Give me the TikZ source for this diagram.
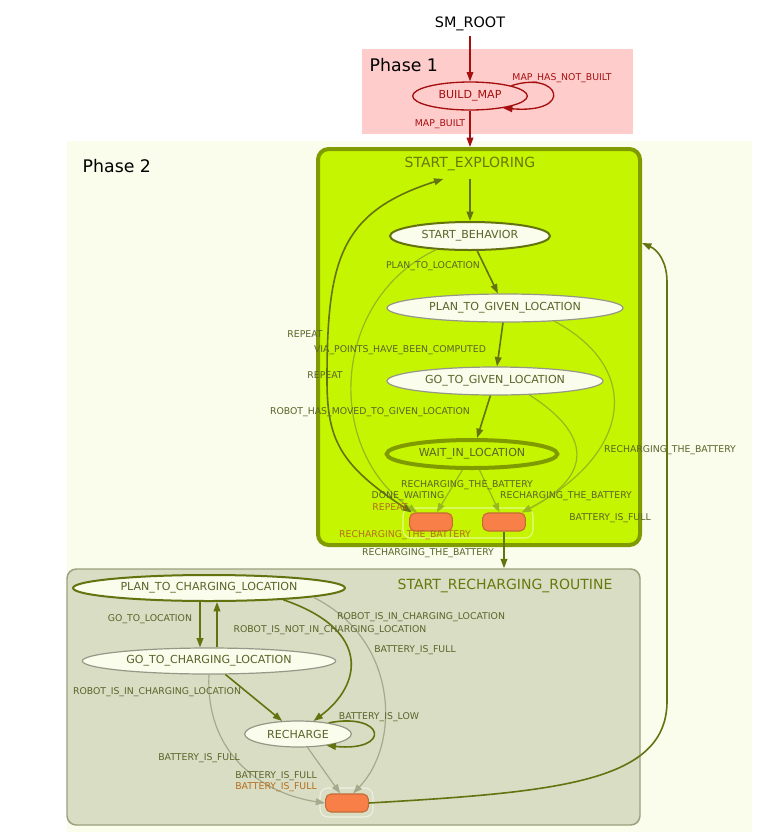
\documentclass[tikz,border=0pt]{standalone}
\usepackage{fontspec}
\setmainfont{DejaVu Sans}
\usetikzlibrary{arrows.meta,shapes.geometric}

\definecolor{phaseone}{RGB}{255,204,204}
\definecolor{phasetwo}{RGB}{250,252,236}
\definecolor{darkred}{RGB}{165,15,15}
\definecolor{limefill}{RGB}{197,245,0}
\definecolor{limeline}{RGB}{128,155,0}
\definecolor{titletxt}{RGB}{105,120,10}
\definecolor{labeltxt}{RGB}{90,100,40}
\definecolor{darkedge}{RGB}{100,115,15}
\definecolor{lightedge}{RGB}{150,185,30}
\definecolor{greyedge}{RGB}{165,170,140}
\definecolor{stateline}{RGB}{150,152,135}
\definecolor{routinefill}{RGB}{216,221,196}
\definecolor{routineline}{RGB}{155,160,125}
\definecolor{outfill}{RGB}{248,128,72}
\definecolor{outline}{RGB}{195,105,55}
\definecolor{outtxt}{RGB}{180,110,30}

\tikzset{
  smstate/.style={ellipse, draw=stateline, line width=0.9pt, fill=phasetwo, text=labeltxt,
    font=\fontsize{8.3}{9}\selectfont, inner sep=0pt, minimum height=21pt},
  activestate/.style={smstate, draw=darkedge, line width=1.5pt},
  outbox/.style={rectangle, rounded corners=4pt, draw=outline, line width=0.8pt, fill=outfill,
    minimum width=32pt, minimum height=13.5pt, inner sep=0pt},
  elabel/.style={text=labeltxt, font=\fontsize{7}{8}\selectfont, inner sep=0pt},
  olabel/.style={elabel, text=outtxt},
  rlabel/.style={elabel, text=darkred},
  boxtitle/.style={text=titletxt, font=\fontsize{10.5}{12}\selectfont, inner sep=0pt, minimum height=22pt},
  darktrans/.style={draw=darkedge, line width=1.2pt, -{Triangle[length=7pt,width=5pt]}},
  lighttrans/.style={draw=lightedge, line width=0.9pt, -{Triangle[length=7pt,width=5pt]}},
  greytrans/.style={draw=greyedge, line width=0.9pt, -{Triangle[length=7pt,width=5pt]}},
  redtrans/.style={draw=darkred, line width=1pt, -{Triangle[length=7pt,width=5pt]}}
}

\begin{document}
\begin{tikzpicture}[x=0.75pt,y=-0.75pt]
  %%%%% START %%%%%
  \useasboundingbox (0,0) rectangle (770,840);

  % phase backgrounds
  \fill[phaseone] (362,49) rectangle (633,134);
  \fill[phasetwo] (67,141) rectangle (752,832);
  \node[anchor=west, font=\fontsize{13}{15}\selectfont] (phaseA) at (365,65) {Phase 1};
  \node[anchor=west, font=\fontsize{13}{15}\selectfont] (phaseB) at (78,166) {Phase 2};

  % phase 1
  \node[font=\fontsize{10.8}{12}\selectfont] (root) at (470,24) {SM\_ROOT};
  \node[ellipse, draw=darkred, line width=1pt, fill=phaseone, text=darkred, inner sep=0pt,
    minimum width=86pt, minimum height=21pt, font=\fontsize{8.3}{9}\selectfont] (buildmap) at (470,96) {BUILD\_MAP};
  \draw[redtrans] (root.south) -- (buildmap.north);
  \draw[redtrans] (buildmap.14) .. controls (560,70) and (575,114) .. (buildmap.-20);
  \node[rlabel] (lblnotbuilt) at (562,78) {MAP\_HAS\_NOT\_BUILT};
  \node[rlabel] (lblbuilt) at (440,124) {MAP\_BUILT};

  % containers
  \node[rectangle, rounded corners=8pt, draw=limeline, line width=3pt, fill=limefill,
    minimum width=241.5pt, minimum height=297pt] (explore) at (479,347) {};
  \node[rectangle, rounded corners=7pt, draw=routineline, line width=1.1pt, fill=routinefill,
    minimum width=429.75pt, minimum height=192pt] (routine) at (353.5,697) {};
  \draw[darkred, line width=1pt, -{Triangle[length=7pt,width=5pt]}] (buildmap.south) -- (buildmap.south |- explore.north);
  \node[boxtitle] (exploretitle) at (470,164) {START\_EXPLORING};
  \node[boxtitle] (routinetitle) at (505,586) {START\_RECHARGING\_ROUTINE};

  % outcome frames
  \draw[white!55!limefill, line width=0.8pt, rounded corners=6pt] (403,508) rectangle (533,538);
  \draw[white!55!routinefill, line width=0.8pt, rounded corners=6pt] (320,788) rectangle (373,817);

  % states of START_EXPLORING
  \node[activestate, minimum width=120pt] (startbeh) at (470,236) {START\_BEHAVIOR};
  \node[smstate, minimum width=177pt] (plangiven) at (505,308) {PLAN\_TO\_GIVEN\_LOCATION};
  \node[smstate, minimum width=162pt] (gogiven) at (495,381) {GO\_TO\_GIVEN\_LOCATION};
  \node[smstate, draw=limeline, line width=3pt, fill=limefill, minimum width=128pt] (waitloc) at (472,454) {WAIT\_IN\_LOCATION};
  \node[outbox] (outrepeat) at (431,522) {};
  \node[outbox] (outcharge) at (504,522) {};

  \draw[darktrans] (exploretitle.south) -- (startbeh.north);
  \draw[darktrans] (startbeh) -- (plangiven);
  \draw[darktrans] (plangiven) -- (gogiven);
  \draw[darktrans] (gogiven) -- (waitloc);
  \draw[lighttrans] (waitloc) -- (outrepeat);
  \draw[lighttrans] (waitloc) -- (outcharge);
  \draw[lighttrans] (gogiven.-22) .. controls (600,440) and (585,480) .. ([xshift=-3pt]outcharge.north east);
  \draw[lighttrans] (plangiven.-15) .. controls (645,370) and (630,455) .. ([xshift=-3pt]outcharge.north east);
  \draw[lighttrans] (startbeh.202) .. controls (330,300) and (325,450) .. ([xshift=6pt]outrepeat.north west);
  \draw[darktrans, {Triangle[length=7pt,width=5pt]}-{Triangle[length=7pt,width=5pt]}]
    ([xshift=2pt]outrepeat.north west) .. controls (340,465) and (327,440) .. (327,380)
    .. controls (327,260) and (340,212) .. ([xshift=-20pt]exploretitle.south);
  \draw[darktrans] (outcharge.south) -- (outcharge.south |- routine.north);

  \node[elabel] (lblplanloc) at (433,266) {PLAN\_TO\_LOCATION};
  \node[elabel] (lblrepeatA) at (305,334) {REPEAT};
  \node[elabel] (lblvia) at (400,350) {VIA\_POINTS\_HAVE\_BEEN\_COMPUTED};
  \node[elabel] (lblrepeatB) at (325,375) {REPEAT};
  \node[elabel] (lblmoved) at (370,412) {ROBOT\_HAS\_MOVED\_TO\_GIVEN\_LOCATION};
  \node[elabel] (lblchargeA) at (670,450) {RECHARGING\_THE\_BATTERY};
  \node[elabel] (lblchargeB) at (467,485) {RECHARGING\_THE\_BATTERY};
  \node[elabel] (lbldone) at (408,496) {DONE\_WAITING};
  \node[elabel] (lblchargeC) at (566,496) {RECHARGING\_THE\_BATTERY};
  \node[olabel] (lbloutrepeat) at (390,507) {REPEAT};
  \node[elabel] (lblfullA) at (610,518) {BATTERY\_IS\_FULL};
  \node[olabel] (lbloutcharge) at (405,535) {RECHARGING\_THE\_BATTERY};
  \node[elabel] (lblchargeD) at (428,553) {RECHARGING\_THE\_BATTERY};

  % states of START_RECHARGING_ROUTINE
  \node[activestate, minimum width=204pt, minimum height=19.5pt] (planchg) at (209,588) {PLAN\_TO\_CHARGING\_LOCATION};
  \node[smstate, minimum width=190pt, minimum height=19.5pt] (gochg) at (209,661) {GO\_TO\_CHARGING\_LOCATION};
  \node[smstate, minimum width=80pt, minimum height=19.5pt] (recharge) at (298,734) {RECHARGE};
  \node[outbox] (outfull) at (347,803) {};

  \draw[darktrans] ([xshift=-6.75pt]planchg.south) -- ([xshift=-6.75pt]gochg.north);
  \draw[darktrans] ([xshift=6pt]gochg.north) -- ([xshift=6pt]planchg.south);
  \draw[darktrans] (planchg.-9) .. controls (372,630) and (362,685) .. (recharge.40);
  \draw[darktrans] (gochg) -- (recharge);
  \draw[darktrans] (recharge.20) .. controls (385,712) and (392,752) .. (recharge.-22);
  \draw[greytrans] (recharge) -- (outfull);
  \draw[greytrans] (planchg.-5) .. controls (400,640) and (400,745) .. ([xshift=4.5pt]outfull.north);
  \draw[greytrans] (gochg.south) .. controls (205,760) and (270,795) .. (outfull.west);
  \draw[darktrans] (outfull.east) .. controls (560,792) and (668,782) .. (667,700)
    -- (667,282) .. controls (667,262) and (658,250) .. ([yshift=-72pt]explore.north east);

  \node[elabel] (lblgoloc) at (150,619) {GO\_TO\_LOCATION};
  \node[elabel] (lblinA) at (421,617) {ROBOT\_IS\_IN\_CHARGING\_LOCATION};
  \node[elabel] (lblnotin) at (330,630) {ROBOT\_IS\_NOT\_IN\_CHARGING\_LOCATION};
  \node[elabel] (lblfullB) at (415,650) {BATTERY\_IS\_FULL};
  \node[elabel] (lblinB) at (157,692) {ROBOT\_IS\_IN\_CHARGING\_LOCATION};
  \node[elabel] (lbllow) at (379,717) {BATTERY\_IS\_LOW};
  \node[elabel] (lblfullC) at (199,758) {BATTERY\_IS\_FULL};
  \node[elabel] (lblfullD) at (276,776) {BATTERY\_IS\_FULL};
  \node[olabel] (lbloutfull) at (276,787) {BATTERY\_IS\_FULL};

  %%%%% END %%%%%
\end{tikzpicture}
\end{document}
